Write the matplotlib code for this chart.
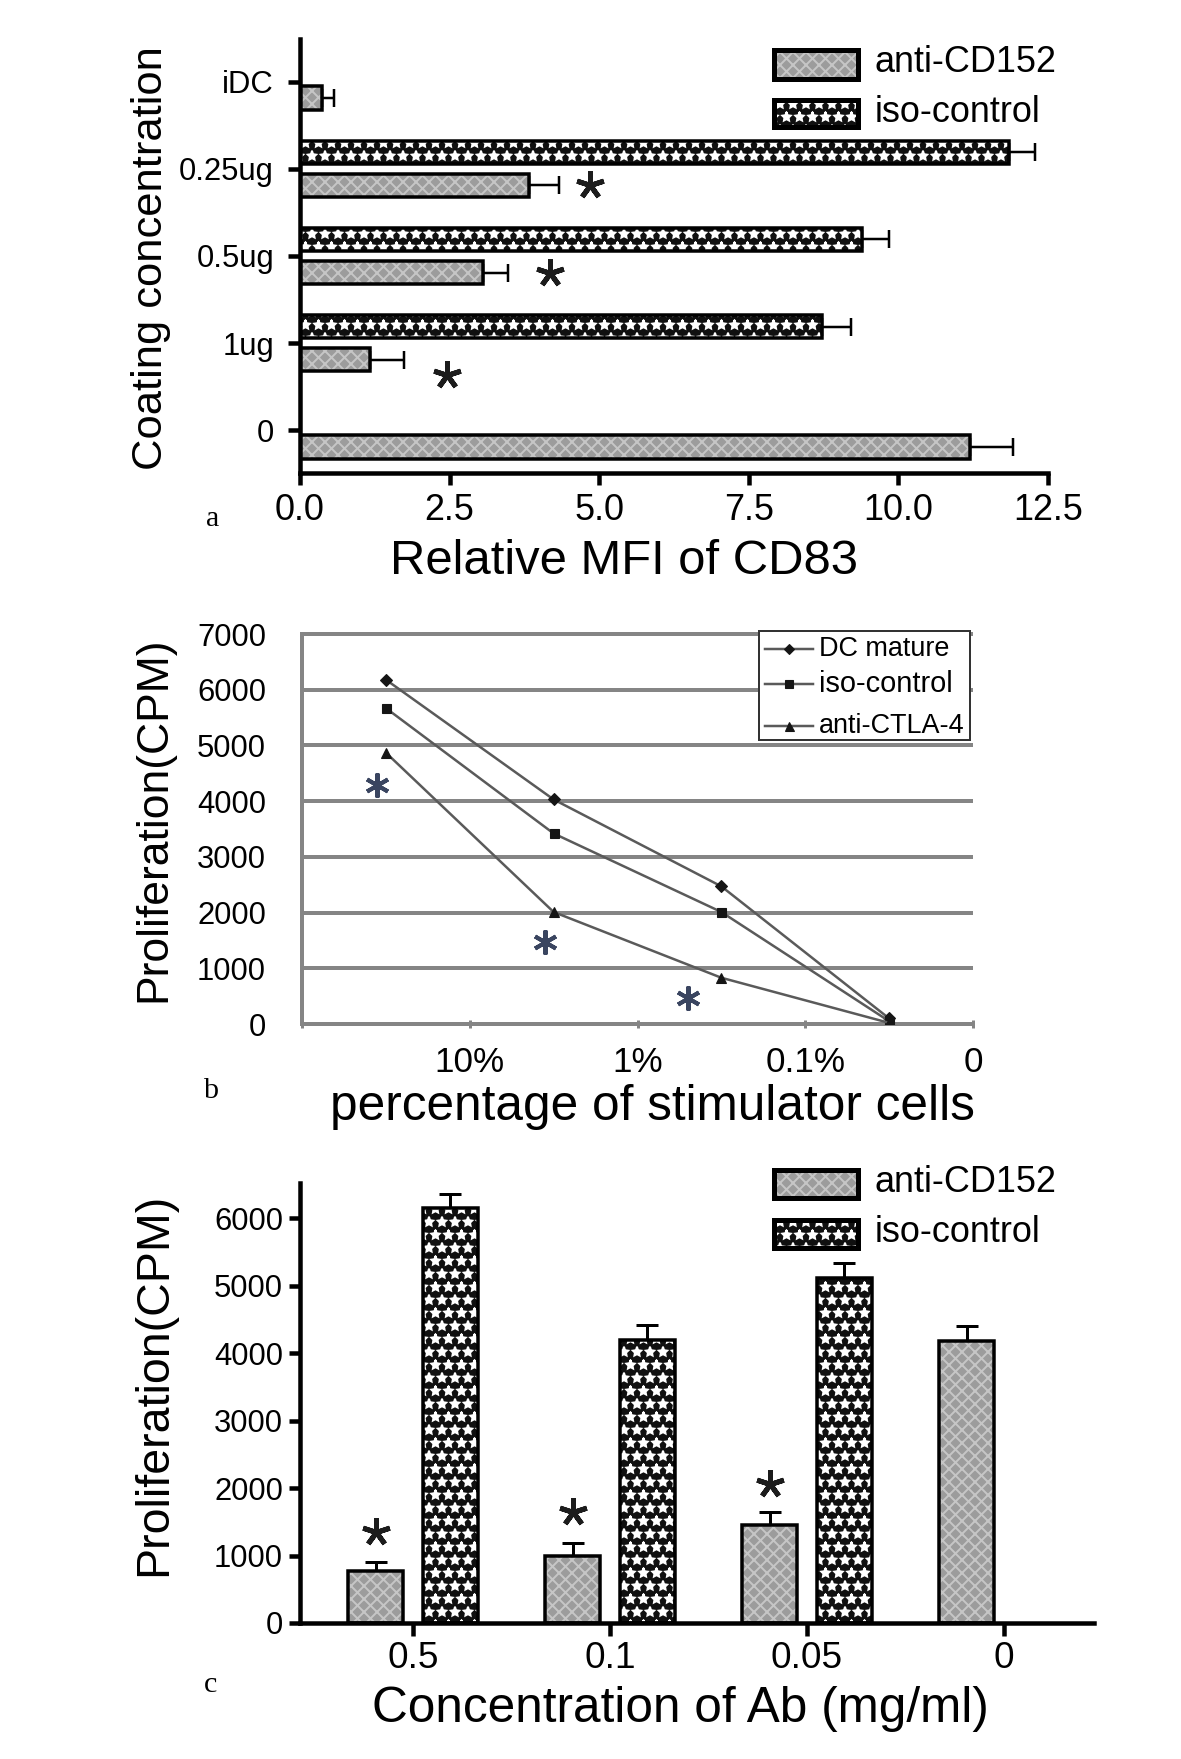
import numpy as np
import matplotlib
matplotlib.use('Agg')
import matplotlib.pyplot as plt
from matplotlib.patches import Rectangle
from matplotlib.lines import Line2D

plt.rcParams['font.family'] = ['Liberation Sans', 'DejaVu Sans']

# ---- panel a : relative MFI of CD83 ----
a_cats = ['iDC', '0.25ug', '0.5ug', '1ug', '0']
a_anti = [0.36, 3.83, 3.06, 1.17, 11.2]
a_anti_err = [0.2, 0.5, 0.42, 0.56, 0.72]
a_iso = [np.nan, 11.84, 9.39, 8.72, np.nan]
a_iso_err = [np.nan, 0.44, 0.46, 0.49, np.nan]
a_star_cat = [1, 2, 3]
a_star_x = [4.85, 4.18, 2.45]
a_star_shift = [0.19, 0.2, 0.36]

# ---- panel b : proliferation vs stimulator cells ----
b_ticks = ['', '10%', '1%', '0.1%', '0']
b_dc = [6180, 4030, 2470, 100]
b_iso = [5670, 3420, 2010, 50]
b_anti = [4870, 2010, 830, 20]
b_star_x = [0.45, 1.45, 2.3]
b_star_y = [4290, 1470, 460]

# ---- panel c : proliferation vs Ab concentration ----
c_cats = ['0.5', '0.1', '0.05', '0']
c_anti = [770, 990, 1456, 4175]
c_anti_err = [140, 190, 195, 225]
c_iso = [6150, 4200, 5110, np.nan]
c_iso_err = [200, 220, 220, np.nan]
c_star_y = [1346, 1648, 2060]

W, H = 1181, 1759
DPI = 78


def P(px):
    # pixels -> points
    return px * 72 / DPI


def fx(px):
    return px / W


def fy(py):
    return 1 - py / H


ANTI = dict(face='#9c9c9c', hatch='xx', hcol='#c6c6c6')
ISO = dict(face='#101010', hatch='*', hcol='white')

plt.rcParams['hatch.linewidth'] = P(2)

fig = plt.figure(figsize=(W / DPI, H / DPI), dpi=DPI)


def add_ax(l, t, r, b):
    return fig.add_axes([l / W, 1 - b / H, (r - l) / W, (b - t) / H])


def hbars(ax, y, w, h, st, lw=3.5):
    ax.barh(y, w, height=h, color=st['face'], edgecolor=st['hcol'],
            hatch=st['hatch'], linewidth=0, zorder=2)
    ax.barh(y, w, height=h, color='none', edgecolor='black', linewidth=P(lw), zorder=3)


def vbars(ax, x, h, w, st, lw=3.5):
    ax.bar(x, h, width=w, color=st['face'], edgecolor=st['hcol'],
           hatch=st['hatch'], linewidth=0, zorder=2)
    ax.bar(x, h, width=w, color='none', edgecolor='black', linewidth=P(lw), zorder=3)


def legend_patch(l, t, r, b, st):
    fill = Rectangle((fx(l), fy(b)), (r - l) / W, (b - t) / H, transform=fig.transFigure,
                     facecolor=st['face'], edgecolor=st['hcol'], hatch=st['hatch'], linewidth=0)
    edge = Rectangle((fx(l), fy(b)), (r - l) / W, (b - t) / H, transform=fig.transFigure,
                     facecolor='none', edgecolor='black', linewidth=P(5))
    fig.add_artist(fill)
    fig.add_artist(edge)


def style_axes(ax):
    for s in ['top', 'right']:
        ax.spines[s].set_visible(False)
    for s in ['left', 'bottom']:
        ax.spines[s].set_linewidth(P(4.5))


# ================= panel a =================
ax_a = add_ax(300, 39, 1048, 473)
ya = np.arange(len(a_cats))
off = 0.19
bh = 0.27
a_anti = np.array(a_anti)
a_iso = np.array(a_iso)
has_iso = ~np.isnan(a_iso)

ax_a.errorbar(a_anti, ya + off, xerr=[np.zeros(len(ya)), a_anti_err], fmt='none',
              ecolor='black', elinewidth=P(2.5), capsize=P(9), capthick=P(2.5), zorder=1)
ax_a.errorbar(a_iso[has_iso], ya[has_iso] - off,
              xerr=[np.zeros(has_iso.sum()), np.array(a_iso_err)[has_iso]], fmt='none',
              ecolor='black', elinewidth=P(2.5), capsize=P(9), capthick=P(2.5), zorder=1)
hbars(ax_a, ya + off, a_anti, bh, ANTI)
hbars(ax_a, ya[has_iso] - off, a_iso[has_iso], bh, ISO)

ax_a.plot(a_star_x, np.array(a_star_cat) + np.array(a_star_shift), ls='none',
          marker=(5, 2, 0), ms=P(28), mew=P(5), color='#1c1c1c', zorder=4)

ax_a.set_xlim(0, 12.5)
ax_a.set_ylim(4.49, -0.49)
style_axes(ax_a)
ax_a.set_xticks([0, 2.5, 5, 7.5, 10, 12.5])
ax_a.set_xticklabels(['0.0', '2.5', '5.0', '7.5', '10.0', '12.5'], fontsize=P(36))
ax_a.set_yticks(ya)
ax_a.set_yticklabels(a_cats, fontsize=P(31))
ax_a.tick_params(axis='x', length=P(12), width=P(4.5), pad=P(8))
ax_a.tick_params(axis='y', length=P(12), width=P(4.5), pad=P(14))

legend_patch(774, 50, 858, 79, ANTI)
legend_patch(774, 100, 858, 127, ISO)
fig.text(fx(875), fy(63), 'anti-CD152', fontsize=P(36), va='center', ha='left')
fig.text(fx(875), fy(112), 'iso-control', fontsize=P(36), va='center', ha='left')

fig.text(fx(151), fy(258), 'Coating concentration', fontsize=P(43.5), rotation=90,
         ha='center', va='center')
fig.text(fx(624), fy(561), 'Relative MFI of CD83', fontsize=P(49), ha='center', va='center')
fig.text(fx(213), fy(519), 'a', fontsize=P(30), family='Liberation Serif',
         ha='center', va='center')

# ================= panel b =================
ax_b = add_ax(302, 634, 973, 1024)
GRID = '#858585'
LINE = '#5a5a5a'
MK = '#151515'
xb = np.arange(len(b_dc)) + 0.5
ax_b.hlines(range(1000, 8000, 1000), 0, 4, colors=GRID, lw=P(4), clip_on=False, zorder=0)
ax_b.plot(xb, b_dc, color=LINE, lw=P(2.5), marker='D', ms=P(8), mfc=MK, mec=MK, zorder=3)
ax_b.plot(xb, b_iso, color=LINE, lw=P(2.5), marker='s', ms=P(9), mfc=MK, mec=MK, zorder=3)
ax_b.plot(xb, b_anti, color=LINE, lw=P(2.5), marker='^', ms=P(10), mfc=MK, mec=MK, zorder=3)
ax_b.plot(b_star_x, b_star_y, ls='none', marker=(6, 2, 0), ms=P(24), mew=P(4),
          color='#3a4560', zorder=4)

ax_b.set_xlim(0, 4)
ax_b.set_ylim(0, 7000)
for s in ['top', 'right']:
    ax_b.spines[s].set_visible(False)
for s in ['left', 'bottom']:
    ax_b.spines[s].set_linewidth(P(4))
    ax_b.spines[s].set_color(GRID)
ax_b.set_yticks(range(0, 8000, 1000))
ax_b.set_yticklabels([str(v) for v in range(0, 8000, 1000)], fontsize=P(31))
ax_b.set_xticks(range(5))
ax_b.set_xticklabels(b_ticks, fontsize=P(35))
ax_b.tick_params(axis='y', length=0, pad=P(36))
ax_b.tick_params(axis='x', length=P(8), width=P(3), direction='inout', color=GRID, pad=P(18))

fig.add_artist(Rectangle((fx(759), fy(740)), (970 - 759) / W, (740 - 631) / H,
                         transform=fig.transFigure, facecolor='white',
                         edgecolor='#333333', linewidth=P(2), zorder=5))
b_leg = [('DC mature', 'D', P(7), 649, 27),
         ('iso-control', 's', P(8), 684, 29),
         ('anti-CTLA-4', '^', P(9), 726, 27)]
for name, m, ms, ypx, fs in b_leg:
    fig.add_artist(Line2D([fx(765), fx(813)], [fy(ypx), fy(ypx)], transform=fig.transFigure,
                          color=LINE, lw=P(2.5), zorder=6))
    fig.add_artist(Line2D([fx(789)], [fy(ypx)], transform=fig.transFigure, marker=m,
                          ms=ms, color=MK, zorder=6))
    fig.text(fx(819), fy(ypx), name, fontsize=P(fs), ha='left', va='center', zorder=7)

fig.text(fx(154), fy(819), 'Proliferation(CPM)', fontsize=P(44.5), rotation=90,
         ha='center', va='center')
fig.text(fx(652), fy(1107), 'percentage of stimulator cells', fontsize=P(49.5),
         ha='center', va='center')
fig.text(fx(211), fy(1091), 'b', fontsize=P(30), family='Liberation Serif',
         ha='center', va='center')

# ================= panel c =================
ax_c = add_ax(300, 1183, 1094, 1623)
xc = np.arange(len(c_cats))
bw = 0.28
c_iso = np.array(c_iso)
has_c = ~np.isnan(c_iso)
ax_c.errorbar(xc - off, c_anti, yerr=[np.zeros(len(xc)), c_anti_err], fmt='none',
              ecolor='black', elinewidth=P(3), capsize=P(11), capthick=P(3), zorder=1)
ax_c.errorbar(xc[has_c] + off, c_iso[has_c],
              yerr=[np.zeros(has_c.sum()), np.array(c_iso_err)[has_c]], fmt='none',
              ecolor='black', elinewidth=P(3), capsize=P(11), capthick=P(3), zorder=1)
vbars(ax_c, xc - off, c_anti, bw, ANTI)
vbars(ax_c, xc[has_c] + off, c_iso[has_c], bw, ISO)
ax_c.plot(xc[:3] - off, c_star_y, ls='none', marker=(5, 2, 0), ms=P(28), mew=P(5),
          color='#1c1c1c', zorder=4)

ax_c.set_xlim(-0.574, 3.457)
ax_c.set_ylim(0, 6520)
style_axes(ax_c)
ax_c.set_xticks(xc)
ax_c.set_xticklabels(c_cats, fontsize=P(37))
ax_c.set_yticks(range(0, 7000, 1000))
ax_c.set_yticklabels([str(v) for v in range(0, 7000, 1000)], fontsize=P(31))
ax_c.tick_params(axis='x', length=P(13), width=P(4.5), pad=P(5))
ax_c.tick_params(axis='y', length=P(11), width=P(4.5), pad=P(6))

legend_patch(774, 1170, 858, 1198, ANTI)
legend_patch(774, 1220, 858, 1248, ISO)
fig.text(fx(875), fy(1183), 'anti-CD152', fontsize=P(36), va='center', ha='left')
fig.text(fx(875), fy(1233), 'iso-control', fontsize=P(36), va='center', ha='left')

fig.text(fx(154), fy(1384), 'Proliferation(CPM)', fontsize=P(46.5), rotation=90,
         ha='center', va='center')
fig.text(fx(680), fy(1709), 'Concentration of Ab (mg/ml)', fontsize=P(49.5),
         ha='center', va='center')
fig.text(fx(211), fy(1685), 'c', fontsize=P(30), family='Liberation Serif',
         ha='center', va='center')

fig.savefig('out.png', dpi=DPI)
